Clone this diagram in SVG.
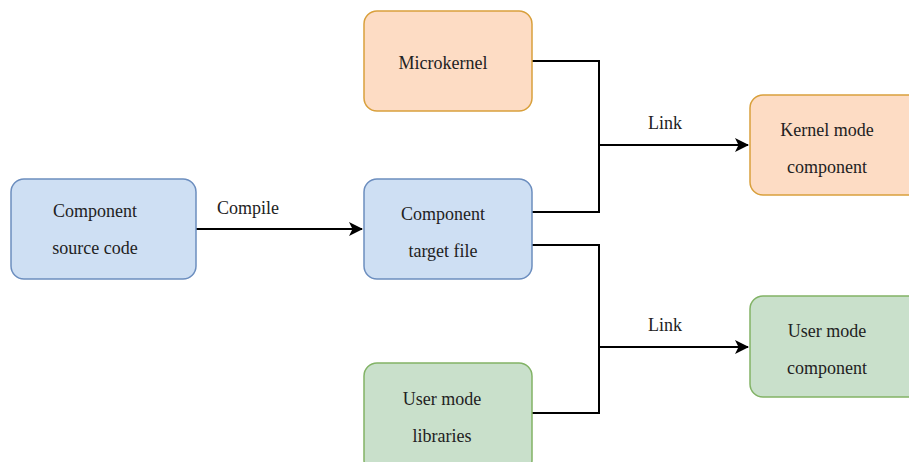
<svg xmlns="http://www.w3.org/2000/svg" width="909" height="462" viewBox="0 0 909 462">
<style>
text{font-family:"Liberation Serif","Times New Roman",serif;font-size:18px;fill:#222;text-anchor:middle}
.blue{fill:#cedff3;stroke:#6c8ebf;stroke-width:1.5}
.orange{fill:#fddcc4;stroke:#d9a03c;stroke-width:1.5}
.green{fill:#c9e0cb;stroke:#82b366;stroke-width:1.5}
.edge{fill:none;stroke:#000;stroke-width:2}
</style>
<defs>
<marker id="arrow" viewBox="0 0 14 14" refX="13" refY="7" markerWidth="14" markerHeight="14" markerUnits="userSpaceOnUse" orient="auto">
<path d="M0,0 L14,7 L0,14 L3.5,7 Z" fill="#000"/>
</marker>
</defs>
<rect width="909" height="462" fill="#fff"/>
<g id="connectors">
<path class="edge" d="M196,229 H362" marker-end="url(#arrow)"/>
<path class="edge" d="M532,61 H599 V145 H748" marker-end="url(#arrow)"/>
<path class="edge" d="M532,212 H599 V145"/>
<path class="edge" d="M532,245 H599 V347 H748" marker-end="url(#arrow)"/>
<path class="edge" d="M532,413 H599 V347"/>
<text x="248" y="214">Compile</text>
<text x="665" y="129">Link</text>
<text x="665" y="331">Link</text>
</g>
<g id="source">
<rect class="blue" x="11" y="179" width="185" height="100" rx="13"/>
<text x="95" y="217">Component</text>
<text x="95" y="254">source code</text>
</g>
<g id="target">
<rect class="blue" x="364" y="179" width="168" height="100" rx="13"/>
<text x="443" y="220">Component</text>
<text x="443" y="257">target file</text>
</g>
<g id="microkernel">
<rect class="orange" x="364" y="11" width="168" height="100" rx="13"/>
<text x="443" y="69">Microkernel</text>
</g>
<g id="libraries">
<rect class="green" x="364" y="363" width="168" height="110" rx="13"/>
<text x="442" y="405">User mode</text>
<text x="442" y="442">libraries</text>
</g>
<g id="kernelcomp">
<rect class="orange" x="750" y="95" width="175" height="100" rx="13"/>
<text x="827" y="136">Kernel mode</text>
<text x="827" y="173">component</text>
</g>
<g id="usercomp">
<rect class="green" x="750" y="296" width="175" height="101" rx="13"/>
<text x="827" y="337">User mode</text>
<text x="827" y="374">component</text>
</g>
</svg>
